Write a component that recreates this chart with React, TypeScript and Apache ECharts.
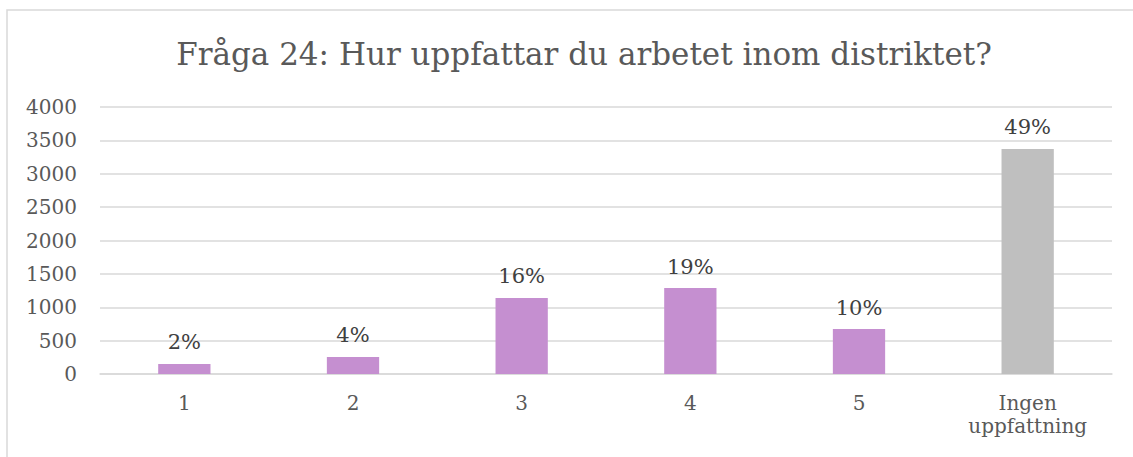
import React, { useEffect, useRef } from "react";
import * as echarts from "echarts";

const categories = ["1", "2", "3", "4", "5", "Ingen\nuppfattning"];
const counts = [150, 255, 1139, 1288, 674, 3371];
const percentLabels = ["2%", "4%", "16%", "19%", "10%", "49%"];
const barColors = ["#C58FD0", "#C58FD0", "#C58FD0", "#C58FD0", "#C58FD0", "#BFBFBF"];
const titleText = "Fråga 24: Hur uppfattar du arbetet inom distriktet?";

const FONT = "'DejaVu Serif', serif";

export default function App() {
  const ref = useRef<HTMLDivElement>(null);
  useEffect(() => {
    document.body.style.margin = "0";
    const chart = echarts.init(ref.current!, null, { renderer: "svg" });
    chart.setOption({
      animation: false,
      backgroundColor: "#ffffff",
      title: {
        text: titleText,
        left: 579,
        textAlign: "center",
        top: 33,
        textStyle: { fontFamily: FONT, fontSize: 31, fontWeight: "normal", color: "#595959" },
      },
      graphic: [
        {
          type: "rect",
          shape: { x: 7, y: 10, width: 1140, height: 460 },
          style: { fill: "none", stroke: "#D9D9D9", lineWidth: 1.5 },
          silent: true,
        },
      ],
      grid: { left: 100, right: 21, top: 107, bottom: 83 },
      xAxis: {
        type: "category",
        data: categories,
        axisLine: { lineStyle: { color: "#D9D9D9", width: 1.5 } },
        axisTick: { show: false },
        axisLabel: {
          fontFamily: FONT,
          fontSize: 20,
          color: "#595959",
          margin: 17,
          lineHeight: 23,
        },
      },
      yAxis: {
        type: "value",
        min: 0,
        max: 4000,
        interval: 500,
        axisLine: { show: false },
        axisTick: { show: false },
        splitLine: { lineStyle: { color: "#D9D9D9", width: 1.5 } },
        axisLabel: {
          fontFamily: FONT,
          fontSize: 20,
          color: "#595959",
          margin: 23,
          formatter: (v: number) => String(v),
        },
      },
      series: [
        {
          type: "bar",
          barWidth: "31%",
          data: counts.map((v, i) => ({ value: v, itemStyle: { color: barColors[i] } })),
          label: {
            show: true,
            position: "top",
            distance: 11,
            fontFamily: FONT,
            fontSize: 21,
            color: "#404040",
            formatter: (p: any) => percentLabels[p.dataIndex],
          },
        },
      ],
    });
    return () => chart.dispose();
  }, []);
  return <div ref={ref} style={{ position: "absolute", left: 0, top: 0, width: 1133, height: 457 }} />;
}
